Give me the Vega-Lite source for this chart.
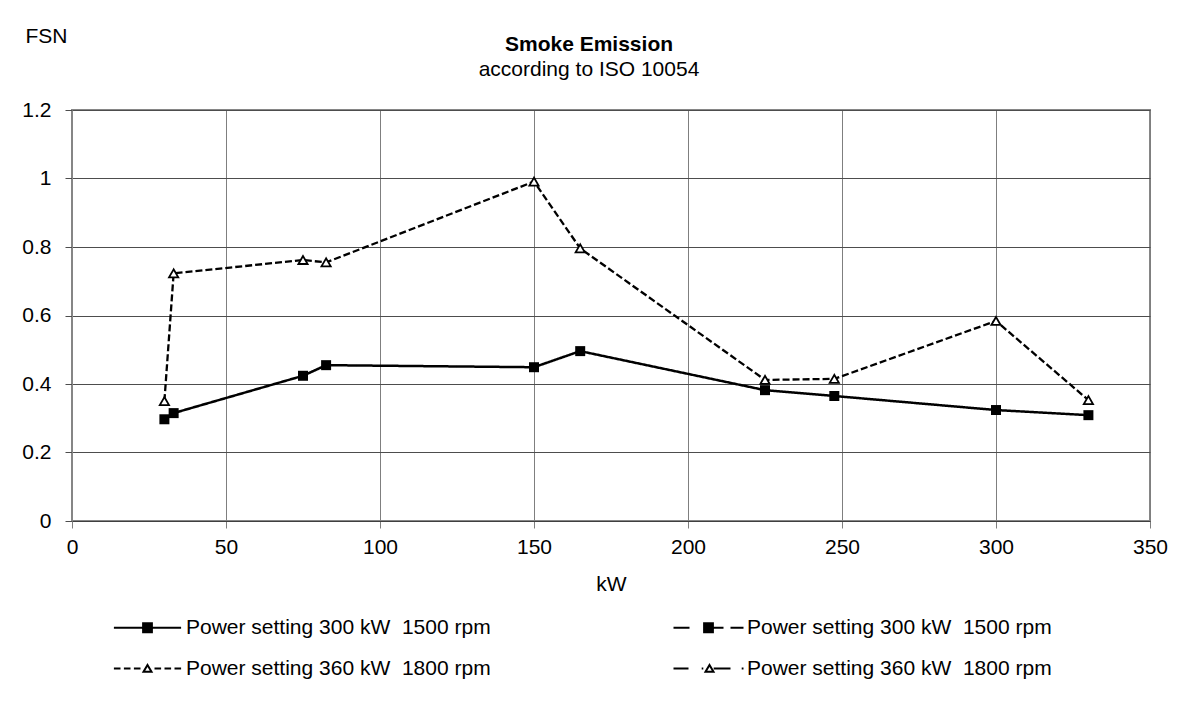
{
  "$schema": "https://vega.github.io/schema/vega-lite/v6.json",
  "width": 1078,
  "height": 411,
  "autosize": "none",
  "padding": {"left": 72, "top": 110, "right": 28, "bottom": 187},
  "background": "white",
  "config": {
    "font": "Liberation Sans",
    "view": {"stroke": "#868686", "strokeWidth": 2},
    "axis": {"labelFont": "Liberation Sans", "titleFont": "Liberation Sans", "labelColor": "black", "titleColor": "black", "labelFontSize": 21, "titleFontSize": 21, "titleFontWeight": "normal", "tickSize": 7},
    "legend": {"labelFont": "Liberation Sans"}
  },
  "title": {
    "text": "Smoke Emission",
    "subtitle": "according to ISO 10054",
    "anchor": "middle",
    "frame": "group",
    "dx": -22,
    "dy": 59,
    "font": "Liberation Sans",
    "fontSize": 21,
    "fontWeight": "bold",
    "color": "black",
    "subtitleFont": "Liberation Sans",
    "subtitleFontSize": 21,
    "subtitleColor": "black",
    "subtitlePadding": 4
  },
  "data": {
    "values": [
      {"series": "Power setting 300 kW \u00a01500 rpm", "kW": 30, "FSN": 0.297},
      {"series": "Power setting 300 kW \u00a01500 rpm", "kW": 33, "FSN": 0.315},
      {"series": "Power setting 300 kW \u00a01500 rpm", "kW": 75, "FSN": 0.424},
      {"series": "Power setting 300 kW \u00a01500 rpm", "kW": 82.5, "FSN": 0.455},
      {"series": "Power setting 300 kW \u00a01500 rpm", "kW": 150, "FSN": 0.449},
      {"series": "Power setting 300 kW \u00a01500 rpm", "kW": 165, "FSN": 0.496},
      {"series": "Power setting 300 kW \u00a01500 rpm", "kW": 225, "FSN": 0.382},
      {"series": "Power setting 300 kW \u00a01500 rpm", "kW": 247.5, "FSN": 0.365},
      {"series": "Power setting 300 kW \u00a01500 rpm", "kW": 300, "FSN": 0.324},
      {"series": "Power setting 300 kW \u00a01500 rpm", "kW": 330, "FSN": 0.309},
      {"series": "Power setting 360 kW \u00a01800 rpm", "kW": 30, "FSN": 0.35},
      {"series": "Power setting 360 kW \u00a01800 rpm", "kW": 33, "FSN": 0.723},
      {"series": "Power setting 360 kW \u00a01800 rpm", "kW": 75, "FSN": 0.762},
      {"series": "Power setting 360 kW \u00a01800 rpm", "kW": 82.5, "FSN": 0.755},
      {"series": "Power setting 360 kW \u00a01800 rpm", "kW": 150, "FSN": 0.991},
      {"series": "Power setting 360 kW \u00a01800 rpm", "kW": 165, "FSN": 0.796},
      {"series": "Power setting 360 kW \u00a01800 rpm", "kW": 225, "FSN": 0.412},
      {"series": "Power setting 360 kW \u00a01800 rpm", "kW": 247.5, "FSN": 0.415},
      {"series": "Power setting 360 kW \u00a01800 rpm", "kW": 300, "FSN": 0.584},
      {"series": "Power setting 360 kW \u00a01800 rpm", "kW": 330, "FSN": 0.353}
    ]
  },
  "encoding": {
    "x": {
      "field": "kW", "type": "quantitative",
      "scale": {"domain": [0, 350], "nice": false},
      "axis": {"values": [0, 50, 100, 150, 200, 250, 300, 350], "title": "kW", "gridColor": "#7f7f7f", "domainColor": "#404040", "tickColor": "#7f7f7f", "labelPadding": 8, "titlePadding": 16, "labelFlush": false}
    },
    "y": {
      "field": "FSN", "type": "quantitative",
      "scale": {"domain": [0, 1.2], "nice": false},
      "axis": {"values": [0, 0.2, 0.4, 0.6, 0.8, 1, 1.2], "format": "~g", "title": "FSN", "titleAngle": 0, "titleAlign": "left", "titleBaseline": "middle", "titleX": -47, "titleY": -74, "gridColor": "#4d4d4d", "domainColor": "#868686", "tickColor": "#4d4d4d", "labelPadding": 14, "labelFlush": false}
    }
  },
  "layer": [
    {
      "mark": {"type": "line", "color": "black"},
      "encoding": {
        "strokeDash": {"field": "series", "type": "nominal", "scale": {"domain": ["Power setting 300 kW \u00a01500 rpm", "Power setting 360 kW \u00a01800 rpm"], "range": [[1, 0], [7, 3]]}, "legend": null},
        "strokeWidth": {"field": "series", "type": "nominal", "scale": {"domain": ["Power setting 300 kW \u00a01500 rpm", "Power setting 360 kW \u00a01800 rpm"], "range": [2.5, 2.3]}, "legend": null}
      }
    },
    {
      "transform": [{"filter": "datum.series == 'Power setting 300 kW \u00a01500 rpm'"}],
      "mark": {"type": "point", "shape": "square", "filled": true, "color": "black", "size": 100, "opacity": 1}
    },
    {
      "transform": [{"filter": "datum.series == 'Power setting 360 kW \u00a01800 rpm'"}],
      "mark": {"type": "point", "shape": "triangle-up", "filled": true, "fill": "white", "stroke": "black", "strokeWidth": 1.8, "size": 85, "opacity": 1}
    },
    {
      "transform": [{"filter": "datum.kW < 0"}],
      "mark": {"type": "point", "filled": true, "strokeWidth": 2, "opacity": 1},
      "encoding": {
        "shape": {
          "field": "series", "type": "nominal",
          "scale": {
            "domain": ["Power setting 300 kW \u00a01500 rpm", "Power setting 300 kW \u00a01500 rpm ", "Power setting 360 kW \u00a01800 rpm", "Power setting 360 kW \u00a01800 rpm "],
            "range": [
              "M-8.4,0H-1.1M1.1,0H8.4M-1.1,-1.1H1.1V1.1H-1.1Z",
              "M-8.75,0H-4.75M1.1,0H3.75M5.5,0H8.75M-1.1,-1.1H1.1V1.1H-1.1Z",
              "M-8.4,0H-6.75M-5.9,0H-4.25M-3.4,0H-1.75M1.75,0H3.4M4.25,0H5.9M6.75,0H8.4M0,-0.9L1,0.8H-1Z",
              "M-8.75,0H-5M-1.7,0H-1.3M1.3,0H5.5M8.3,0H8.75M0.25,-0.9L1.25,0.8H-0.75Z"
            ]
          },
          "legend": {"orient": "none", "legendX": 65, "legendY": 507, "columns": 2, "direction": "horizontal", "title": null, "symbolSize": 64, "symbolStrokeWidth": 2, "labelFontSize": 21, "labelColor": "black", "labelOffset": 28, "columnPadding": 178, "rowPadding": 19, "labelLimit": 0}
        },
        "fill": {
          "field": "series", "type": "nominal",
          "scale": {
            "domain": ["Power setting 300 kW \u00a01500 rpm", "Power setting 300 kW \u00a01500 rpm ", "Power setting 360 kW \u00a01800 rpm", "Power setting 360 kW \u00a01800 rpm "],
            "range": ["black", "black", "white", "white"]
          },
          "legend": {"orient": "none", "legendX": 65, "legendY": 507, "columns": 2, "direction": "horizontal", "title": null, "symbolSize": 64, "symbolStrokeWidth": 2, "labelFontSize": 21, "labelColor": "black", "labelOffset": 28, "columnPadding": 178, "rowPadding": 19, "labelLimit": 0}
        },
        "stroke": {
          "field": "series", "type": "nominal",
          "scale": {
            "domain": ["Power setting 300 kW \u00a01500 rpm", "Power setting 300 kW \u00a01500 rpm ", "Power setting 360 kW \u00a01800 rpm", "Power setting 360 kW \u00a01800 rpm "],
            "range": ["black", "black", "black", "black"]
          },
          "legend": {"orient": "none", "legendX": 65, "legendY": 507, "columns": 2, "direction": "horizontal", "title": null, "symbolSize": 64, "symbolStrokeWidth": 2, "labelFontSize": 21, "labelColor": "black", "labelOffset": 28, "columnPadding": 178, "rowPadding": 19, "labelLimit": 0}
        }
      }
    }
  ]
}
